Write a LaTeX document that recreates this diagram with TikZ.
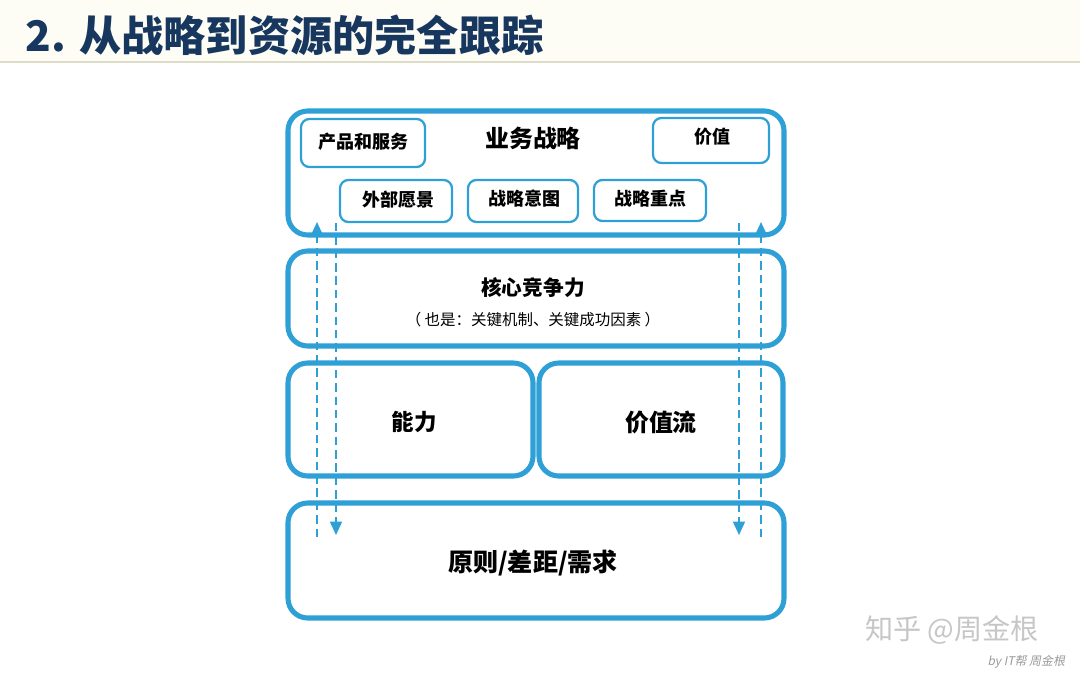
\documentclass[tikz,border=0pt]{standalone}
\usepackage{fontspec}
\setmainfont{Noto Sans CJK SC}
\newfontfamily\slantcjk{Noto Sans CJK SC}[FakeSlant=0.2]
\usetikzlibrary{arrows.meta}
\definecolor{boxblue}{HTML}{2EA0D6}
\definecolor{titlenavy}{HTML}{17375E}
\definecolor{headfill}{HTML}{FDFDF6}
\definecolor{headline}{HTML}{DEDCC6}
\newcommand{\fsz}[1]{\fontsize{#1}{#1}\selectfont}
\tikzset{
  layer/.style={draw=boxblue, line width=3.6pt, rounded corners=14pt},
  tag/.style={draw=boxblue, line width=1.6pt, rounded corners=6pt},
  trace/.style={boxblue, line width=1.3pt, dash pattern=on 6pt off 3.5pt, -{Triangle[width=8.5pt,length=9.5pt]}}
}
\begin{document}
\begin{tikzpicture}[x=0.025cm, y=-0.025cm]
\useasboundingbox (0,0) rectangle (1080,676);
\fill[headfill] (0,0) rectangle (1080,61);
\draw[headline, line width=1pt] (0,62) -- (1080,62);
\node[anchor=west, text=titlenavy, font=\bfseries\fsz{30}] (title) at (21,35) {2. 从战略到资源的完全跟踪};

% layers
\draw[layer] (288,111) rectangle (784,235);
\draw[layer] (288,251) rectangle (784,346);
\draw[layer] (288,363) rectangle (533,476);
\draw[layer] (539,363) rectangle (783,476);
\draw[layer] (288,503) rectangle (784,618);

% tags of the strategy layer
\draw[tag] (301,119) rectangle (425,167);
\draw[tag] (653,118) rectangle (769,163);
\draw[tag] (340,180) rectangle (452,222);
\draw[tag] (468,180) rectangle (578,222);
\draw[tag] (594,180) rectangle (706,221);

\node[font=\bfseries\fsz{17}] (strategy) at (533,138) {业务战略};
\node[font=\bfseries\fsz{12.8}] (product) at (363,142) {产品和服务};
\node[font=\bfseries\fsz{12.8}] (value) at (712,137) {价值};
\node[font=\bfseries\fsz{12.8}] (vision) at (398,200) {外部愿景};
\node[font=\bfseries\fsz{12.8}] (intent) at (524,199) {战略意图};
\node[font=\bfseries\fsz{12.8}] (focus) at (650,199) {战略重点};

\node[font=\bfseries\fsz{14.7}] (core) at (533,288) {核心竞争力};
\node[font=\fsz{11}] (coresub) at (533,320) {（ 也是：关键机制、关键成功因素 ）};
\node[font=\bfseries\fsz{16}] (capability) at (414,422) {能力};
\node[font=\bfseries\fsz{17}] (stream) at (661,422) {价值流};
\node[font=\bfseries\fsz{17.8}] (needs) at (533,563) {原则/差距/需求};

% tracing arrows
\foreach \n/\x/\ya/\yb in {upL/317/537/222, dnL/336/223/535, dnR/739/223/535, upR/761/537/222}{
  \coordinate (\n-from) at (\x,\ya);
  \coordinate (\n-to) at (\x,\yb);
  \draw[trace] (\n-from) -- (\n-to);
}

\node[text=gray!45, font=\fsz{20}] (mark) at (952,630) {知乎 @周金根};
\node[anchor=east, text=gray!80, font=\slantcjk\fsz{8.5}] (byline) at (1070,662) {by IT帮 周金根};
\end{tikzpicture}
\end{document}
